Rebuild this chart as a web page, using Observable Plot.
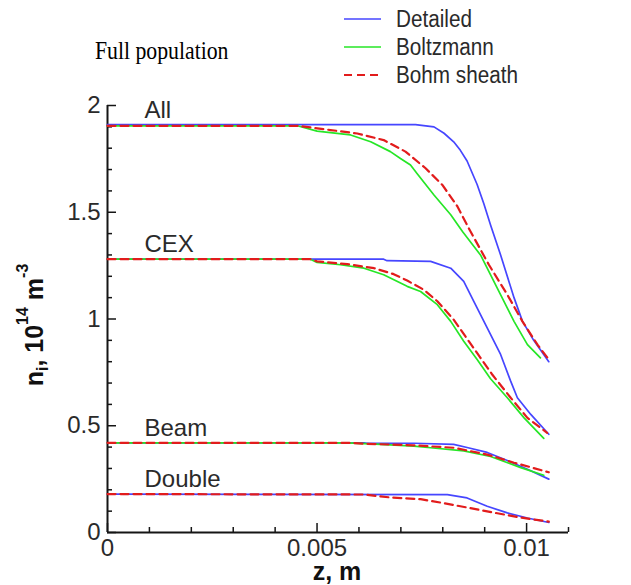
<!DOCTYPE html>
<html>
<head>
<meta charset="utf-8">
<script src="https://cdn.jsdelivr.net/npm/d3@7"></script>
<script src="https://cdn.jsdelivr.net/npm/@observablehq/plot@0.6"></script>
<style>
html,body{margin:0;padding:0;background:#fff;}
</style>
</head>
<body>
<div id="chart"></div>
<script>
// ---- texts ----
const titleText = "Full population";
const modelNames = ["Detailed", "Boltzmann", "Bohm sheath"];
const modelColors = ["#4646ff", "#26e626", "#e21c1c"];
const groupNames = ["All", "CEX", "Beam", "Double"];
const xTicks = [0, 0.005, 0.01];
const xTickLabels = ["0", "0.005", "0.01"];
const xMinorTicks = [0.001, 0.002, 0.003, 0.004, 0.006, 0.007, 0.008, 0.009, 0.011];
const yTicks = [0, 0.5, 1, 1.5, 2];
const yTickLabels = ["0", "0.5", "1", "1.5", "2"];
const yMinorTicks = [0.1, 0.2, 0.3, 0.4, 0.6, 0.7, 0.8, 0.9, 1.1, 1.2, 1.3, 1.4, 1.6, 1.7, 1.8, 1.9];

// ---- data: z (m) and n_i (1e14 m^-3) ----
const allDetailedZ = [0, 0.00735, 0.00779, 0.00803, 0.00826, 0.00842, 0.00858, 0.00882, 0.00898, 0.00914, 0.00938, 0.00970, 0.00990, 0.01017, 0.01053];
const allDetailedN = [1.91, 1.91, 1.90, 1.87, 1.83, 1.79, 1.74, 1.63, 1.54, 1.44, 1.30, 1.10, 0.99, 0.90, 0.80];
const allBoltzmannZ = [0, 0.00453, 0.00500, 0.00580, 0.00628, 0.00675, 0.00699, 0.00723, 0.00739, 0.00779, 0.00819, 0.00847, 0.00890, 0.00930, 0.00970, 0.01002, 0.01033];
const allBoltzmannN = [1.905, 1.905, 1.88, 1.862, 1.83, 1.784, 1.752, 1.721, 1.68, 1.581, 1.488, 1.41, 1.30, 1.145, 0.989, 0.88, 0.818];
const allBohmZ = [0, 0.00453, 0.00532, 0.00596, 0.00659, 0.00711, 0.00759, 0.00799, 0.00835, 0.00862, 0.00910, 0.00954, 0.00990, 0.01026, 0.01053];
const allBohmN = [1.905, 1.905, 1.885, 1.869, 1.838, 1.784, 1.706, 1.628, 1.527, 1.425, 1.254, 1.114, 0.989, 0.88, 0.81];

const cexDetailedZ = [0, 0.00659, 0.00667, 0.00771, 0.00819, 0.00850, 0.00874, 0.00906, 0.00938, 0.00962, 0.00978, 0.01010, 0.01053];
const cexDetailedN = [1.28, 1.28, 1.273, 1.27, 1.238, 1.176, 1.083, 0.958, 0.834, 0.709, 0.631, 0.553, 0.46];
const cexBoltzmannZ = [0, 0.00484, 0.00500, 0.00556, 0.00612, 0.00659, 0.00715, 0.00747, 0.00787, 0.00819, 0.00850, 0.00882, 0.00914, 0.00954, 0.00994, 0.01041];
const cexBoltzmannN = [1.28, 1.28, 1.265, 1.254, 1.238, 1.207, 1.153, 1.129, 1.067, 0.989, 0.896, 0.81, 0.72, 0.631, 0.537, 0.441];
const cexBohmZ = [0, 0.00484, 0.00500, 0.00572, 0.00636, 0.00683, 0.00715, 0.00755, 0.00787, 0.00826, 0.00862, 0.00890, 0.00918, 0.00962, 0.01002, 0.01049];
const cexBohmN = [1.28, 1.28, 1.27, 1.257, 1.238, 1.21, 1.18, 1.137, 1.083, 0.997, 0.896, 0.818, 0.74, 0.631, 0.537, 0.467];

const beamDetailedZ = [0, 0.00612, 0.00620, 0.00731, 0.00826, 0.00858, 0.00906, 0.00954, 0.01002, 0.01053];
const beamDetailedN = [0.42, 0.42, 0.418, 0.418, 0.413, 0.398, 0.375, 0.337, 0.296, 0.25];
const beamBoltzmannZ = [0, 0.00572, 0.00652, 0.00731, 0.00771, 0.00850, 0.00914, 0.00986, 0.01041];
const beamBoltzmannN = [0.42, 0.42, 0.413, 0.405, 0.397, 0.382, 0.356, 0.304, 0.268];
const beamBohmZ = [0, 0.00572, 0.00612, 0.00731, 0.00826, 0.00906, 0.00970, 0.01053];
const beamBohmN = [0.42, 0.42, 0.416, 0.408, 0.397, 0.365, 0.327, 0.282];

const doubleDetailedZ = [0, 0.00811, 0.00858, 0.00906, 0.00954, 0.01002, 0.01053];
const doubleDetailedN = [0.18, 0.177, 0.162, 0.123, 0.092, 0.068, 0.047];
const doubleBohmZ = [0, 0.00612, 0.00675, 0.00747, 0.00795, 0.00858, 0.00922, 0.00986, 0.01053];
const doubleBohmN = [0.18, 0.178, 0.164, 0.156, 0.140, 0.117, 0.093, 0.070, 0.051];

// ---- build table ----
const rows = [];
function addSeries(group, model, zs, ns) {
  zs.forEach((z, i) => rows.push({group, model, z, n: ns[i]}));
}
addSeries("All", "Detailed", allDetailedZ, allDetailedN);
addSeries("All", "Boltzmann", allBoltzmannZ, allBoltzmannN);
addSeries("All", "Bohm sheath", allBohmZ, allBohmN);
addSeries("CEX", "Detailed", cexDetailedZ, cexDetailedN);
addSeries("CEX", "Boltzmann", cexBoltzmannZ, cexBoltzmannN);
addSeries("CEX", "Bohm sheath", cexBohmZ, cexBohmN);
addSeries("Beam", "Detailed", beamDetailedZ, beamDetailedN);
addSeries("Beam", "Boltzmann", beamBoltzmannZ, beamBoltzmannN);
addSeries("Beam", "Bohm sheath", beamBohmZ, beamBohmN);
addSeries("Double", "Detailed", doubleDetailedZ, doubleDetailedN);
addSeries("Double", "Bohm sheath", doubleBohmZ, doubleBohmN);

const groupStart = groupNames.map(g => rows.find(r => r.group === g && r.model === "Detailed").n);
const xLabel = new Map(xTicks.map((t, i) => [t, xTickLabels[i]]));
const yLabel = new Map(yTicks.map((t, i) => [t, yTickLabels[i]]));

const sans = "'Liberation Sans', Arial, Helvetica, sans-serif";
const axisColor = "#151515";

const W = 631, H = 585, mL = 107, mR = 63, mT = 105, mB = 53;
const innerW = W - mL - mR, innerH = H - mT - mB;
const minorLen = 5, majorLen = 9;

const plot = Plot.plot({
  width: W,
  height: H,
  marginLeft: mL,
  marginRight: mR,
  marginTop: mT,
  marginBottom: mB,
  x: {domain: [0, 0.011], label: null},
  y: {domain: [0, 2], label: null},
  style: {fontFamily: sans, fontSize: "24px", color: "#2a2a2a", background: "#fff", overflow: "visible"},
  marks: [
    // inward tick marks
    Plot.tickX(xMinorTicks, {x: d => d, insetTop: innerH - minorLen, stroke: axisColor, strokeWidth: 1.5}),
    Plot.tickX(xTicks, {x: d => d, insetTop: innerH - majorLen, stroke: axisColor, strokeWidth: 1.5}),
    Plot.tickY(yMinorTicks, {y: d => d, insetRight: innerW - minorLen, stroke: axisColor, strokeWidth: 1.5}),
    Plot.tickY(yTicks, {y: d => d, insetRight: innerW - majorLen, stroke: axisColor, strokeWidth: 1.5}),
    // tick labels
    Plot.axisX({ticks: xTicks, tickSize: 0, tickPadding: 6, tickFormat: d => xLabel.get(d), fontSize: 24}),
    Plot.axisY({ticks: yTicks, tickSize: 0, tickPadding: 7, tickFormat: d => yLabel.get(d), fontSize: 24}),
    Plot.ruleY([0], {stroke: axisColor, strokeWidth: 2}),
    Plot.ruleX([0], {stroke: axisColor, strokeWidth: 2}),
    // curves
    Plot.line(rows.filter(d => d.model === modelNames[0]), {x: "z", y: "n", z: "group", stroke: modelColors[0], strokeWidth: 1.7, strokeLinejoin: "round"}),
    Plot.line(rows.filter(d => d.model === modelNames[1]), {x: "z", y: "n", z: "group", stroke: modelColors[1], strokeWidth: 1.7, strokeLinejoin: "round"}),
    Plot.line(rows.filter(d => d.model === modelNames[2]), {x: "z", y: "n", z: "group", stroke: modelColors[2], strokeWidth: 2.2, strokeDasharray: "8,5"}),
    // curve labels
    Plot.text(groupNames, {x: () => 0, y: (d, i) => groupStart[i], text: d => d, textAnchor: "start", lineAnchor: "bottom", dx: 37, dy: -7, fontSize: 24, fill: "#2a2a2a"})
  ]
});
document.getElementById("chart").appendChild(plot);

const svg = d3.select(plot);
function condense(sel, factor) {
  const node = sel.node();
  const len = node.getComputedTextLength();
  sel.attr("textLength", (len * factor).toFixed(1)).attr("lengthAdjust", "spacingAndGlyphs");
}

// title
const title = svg.append("text")
  .attr("x", 95).attr("y", 59)
  .attr("text-anchor", "start")
  .attr("font-family", "'Liberation Serif', 'Times New Roman', serif")
  .attr("font-size", 25).attr("fill", "#000")
  .text(titleText);
condense(title, 0.87);

// legend
const legendRowsY = [19, 47, 75];
modelNames.forEach((name, i) => {
  const g = svg.append("g");
  g.append("line")
    .attr("x1", 344).attr("x2", 381)
    .attr("y1", legendRowsY[i]).attr("y2", legendRowsY[i])
    .attr("stroke", modelColors[i])
    .attr("stroke-width", i === 2 ? 2.2 : 1.7)
    .attr("stroke-dasharray", i === 2 ? "8,5" : null);
  const t = g.append("text")
    .attr("x", 396).attr("y", legendRowsY[i] + 8)
    .attr("text-anchor", "start")
    .attr("font-family", sans).attr("font-size", 23).attr("fill", "#2a2a2a")
    .text(name);
  condense(t, 0.9);
});

// x-axis title
svg.append("text")
  .attr("x", 337).attr("y", 580)
  .attr("text-anchor", "middle")
  .attr("font-family", sans).attr("font-weight", "bold").attr("font-size", 25).attr("fill", "#111")
  .text("z, m");

// y-axis title with sub/superscripts
const yl = svg.append("text")
  .attr("transform", "translate(43,325) rotate(-90)")
  .attr("text-anchor", "middle")
  .attr("font-family", sans).attr("font-weight", "bold").attr("font-size", 25).attr("fill", "#111")
  .style("white-space", "pre");
yl.append("tspan").text("n");
yl.append("tspan").attr("dy", 5).attr("font-size", 16).text("i");
yl.append("tspan").attr("dy", -5).text(", 10");
yl.append("tspan").attr("dy", -15).attr("font-size", 16).text("14");
yl.append("tspan").attr("dy", 15).text(" m");
yl.append("tspan").attr("dy", -15).attr("font-size", 16).text("-3");
</script>
</body>
</html>
